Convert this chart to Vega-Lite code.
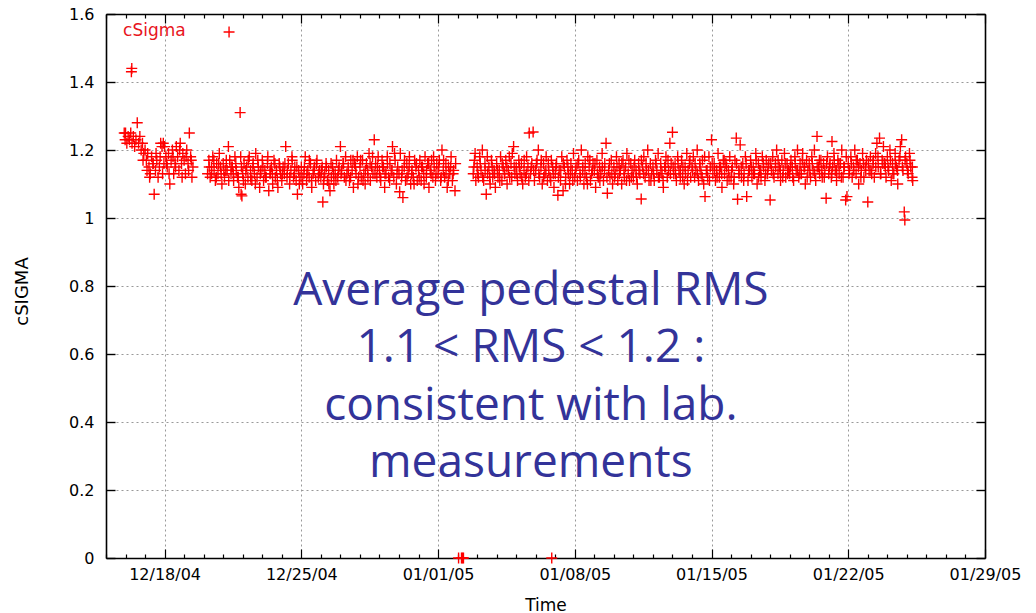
{
  "$schema": "https://vega.github.io/schema/vega-lite/v6.json",
  "width": 879,
  "height": 544,
  "autosize": "none",
  "padding": {"left": 106, "top": 14, "right": 51, "bottom": 55},
  "background": "white",
  "config": {"view": {"stroke": null}},
  "datasets": {
    "pts": [
      {"t":"2004-12-15T22:24","v":1.25},{"t":"2004-12-15T23:30","v":1.23},
      {"t":"2004-12-16T00:00","v":1.25},{"t":"2004-12-16T01:36","v":1.22},{"t":"2004-12-16T03:12","v":1.24},{"t":"2004-12-16T04:48","v":1.23},{"t":"2004-12-16T06:24","v":1.25},{"t":"2004-12-16T07:12","v":1.43},{"t":"2004-12-16T07:40","v":1.44},{"t":"2004-12-16T08:00","v":1.22},{"t":"2004-12-16T09:36","v":1.24},{"t":"2004-12-16T11:12","v":1.21},{"t":"2004-12-16T12:48","v":1.23},{"t":"2004-12-16T14:24","v":1.28},{"t":"2004-12-16T16:00","v":1.22},{"t":"2004-12-16T17:36","v":1.24},{"t":"2004-12-16T19:12","v":1.2},{"t":"2004-12-16T20:48","v":1.22},{"t":"2004-12-16T22:24","v":1.19},
      {"t":"2004-12-17T00:00","v":1.2},{"t":"2004-12-17T01:36","v":1.17},{"t":"2004-12-17T03:12","v":1.19},{"t":"2004-12-17T04:48","v":1.15},{"t":"2004-12-17T06:24","v":1.13},{"t":"2004-12-17T08:00","v":1.18},{"t":"2004-12-17T09:36","v":1.16},{"t":"2004-12-17T11:12","v":1.07},{"t":"2004-12-17T12:48","v":1.14},{"t":"2004-12-17T14:24","v":1.17},{"t":"2004-12-17T16:00","v":1.12},{"t":"2004-12-17T17:36","v":1.15},{"t":"2004-12-17T19:12","v":1.22},{"t":"2004-12-17T20:48","v":1.21},{"t":"2004-12-17T21:30","v":1.13},{"t":"2004-12-17T22:24","v":1.22},
      {"t":"2004-12-18T00:00","v":1.21},{"t":"2004-12-18T01:36","v":1.18},{"t":"2004-12-18T02:24","v":1.16},{"t":"2004-12-18T03:12","v":1.15},{"t":"2004-12-18T04:48","v":1.19},{"t":"2004-12-18T06:24","v":1.1},{"t":"2004-12-18T08:00","v":1.17},{"t":"2004-12-18T09:36","v":1.2},{"t":"2004-12-18T11:12","v":1.13},{"t":"2004-12-18T12:48","v":1.16},{"t":"2004-12-18T14:24","v":1.21},{"t":"2004-12-18T16:00","v":1.18},{"t":"2004-12-18T17:36","v":1.14},{"t":"2004-12-18T19:12","v":1.22},{"t":"2004-12-18T20:48","v":1.16},{"t":"2004-12-18T22:24","v":1.19},
      {"t":"2004-12-19T00:00","v":1.17},{"t":"2004-12-19T01:36","v":1.13},{"t":"2004-12-19T03:12","v":1.2},{"t":"2004-12-19T04:48","v":1.16},{"t":"2004-12-19T06:24","v":1.25},{"t":"2004-12-19T08:00","v":1.18},{"t":"2004-12-19T09:36","v":1.12},{"t":"2004-12-19T10:48","v":1.15},
      {"t":"2004-12-16T21:30","v":1.17},{"t":"2004-12-17T02:24","v":1.14},{"t":"2004-12-17T05:36","v":1.12},{"t":"2004-12-17T10:00","v":1.16},{"t":"2004-12-17T13:30","v":1.19},{"t":"2004-12-17T18:30","v":1.18},{"t":"2004-12-17T23:10","v":1.16},{"t":"2004-12-18T05:30","v":1.13},{"t":"2004-12-18T10:20","v":1.18},{"t":"2004-12-18T13:30","v":1.15},{"t":"2004-12-18T18:30","v":1.2},{"t":"2004-12-18T21:30","v":1.12},{"t":"2004-12-19T02:24","v":1.18},{"t":"2004-12-19T05:30","v":1.14},{"t":"2004-12-19T08:48","v":1.17},
      {"t":"2004-12-20T04:48","v":1.13},{"t":"2004-12-20T06:24","v":1.17},{"t":"2004-12-20T08:00","v":1.12},{"t":"2004-12-20T09:36","v":1.15},{"t":"2004-12-20T11:12","v":1.18},{"t":"2004-12-20T12:48","v":1.14},{"t":"2004-12-20T14:24","v":1.11},{"t":"2004-12-20T16:00","v":1.16},{"t":"2004-12-20T17:36","v":1.13},{"t":"2004-12-20T19:12","v":1.19},{"t":"2004-12-20T20:48","v":1.15},{"t":"2004-12-20T22:24","v":1.1},
      {"t":"2004-12-21T00:00","v":1.16},{"t":"2004-12-21T01:36","v":1.12},{"t":"2004-12-21T03:12","v":1.14},{"t":"2004-12-21T04:48","v":1.14},{"t":"2004-12-21T06:24","v":1.21},{"t":"2004-12-21T08:00","v":1.17},{"t":"2004-12-21T09:36","v":1.13},{"t":"2004-12-21T11:12","v":1.15},{"t":"2004-12-21T12:48","v":1.11},{"t":"2004-12-21T14:24","v":1.18},{"t":"2004-12-21T16:00","v":1.14},{"t":"2004-12-21T17:36","v":1.12},{"t":"2004-12-21T19:12","v":1.09},{"t":"2004-12-21T20:48","v":1.31},{"t":"2004-12-21T22:00","v":1.07},{"t":"2004-12-21T22:24","v":1.15},{"t":"2004-12-21T23:00","v":1.065},
      {"t":"2004-12-22T00:00","v":1.13},{"t":"2004-12-22T01:36","v":1.16},{"t":"2004-12-22T03:12","v":1.1},{"t":"2004-12-22T04:48","v":1.15},{"t":"2004-12-22T06:24","v":1.12},{"t":"2004-12-22T08:00","v":1.18},{"t":"2004-12-22T09:36","v":1.14},{"t":"2004-12-22T11:12","v":1.11},{"t":"2004-12-22T12:48","v":1.16},{"t":"2004-12-22T14:24","v":1.13},{"t":"2004-12-22T16:00","v":1.19},{"t":"2004-12-22T17:36","v":1.12},{"t":"2004-12-22T19:12","v":1.15},{"t":"2004-12-22T20:48","v":1.09},{"t":"2004-12-22T22:24","v":1.14},
      {"t":"2004-12-23T00:00","v":1.17},{"t":"2004-12-23T01:36","v":1.11},{"t":"2004-12-23T03:12","v":1.14},{"t":"2004-12-23T04:48","v":1.12},{"t":"2004-12-23T06:24","v":1.16},{"t":"2004-12-23T08:00","v":1.08},{"t":"2004-12-23T09:36","v":1.13},{"t":"2004-12-23T11:12","v":1.15},{"t":"2004-12-23T12:48","v":1.1},{"t":"2004-12-23T14:24","v":1.17},{"t":"2004-12-23T16:00","v":1.12},{"t":"2004-12-23T17:36","v":1.14},{"t":"2004-12-23T19:12","v":1.09},{"t":"2004-12-23T20:48","v":1.16},{"t":"2004-12-23T22:24","v":1.13},
      {"t":"2004-12-24T00:00","v":1.11},{"t":"2004-12-24T01:36","v":1.15},{"t":"2004-12-24T03:12","v":1.13},{"t":"2004-12-24T04:48","v":1.21},{"t":"2004-12-24T06:24","v":1.12},{"t":"2004-12-24T08:00","v":1.16},{"t":"2004-12-24T09:36","v":1.1},{"t":"2004-12-24T11:12","v":1.14},{"t":"2004-12-24T12:48","v":1.17},{"t":"2004-12-24T14:24","v":1.12},{"t":"2004-12-24T16:00","v":1.15},{"t":"2004-12-24T17:36","v":1.11},{"t":"2004-12-24T19:12","v":1.07},{"t":"2004-12-24T20:48","v":1.14},{"t":"2004-12-24T22:24","v":1.12},
      {"t":"2004-12-25T00:00","v":1.15},{"t":"2004-12-25T01:36","v":1.1},{"t":"2004-12-25T03:12","v":1.13},{"t":"2004-12-25T04:48","v":1.18},{"t":"2004-12-25T06:24","v":1.11},{"t":"2004-12-25T08:00","v":1.14},{"t":"2004-12-25T09:36","v":1.12},{"t":"2004-12-25T11:12","v":1.16},{"t":"2004-12-25T12:48","v":1.09},{"t":"2004-12-25T14:24","v":1.13},{"t":"2004-12-25T16:00","v":1.15},{"t":"2004-12-25T17:36","v":1.11},{"t":"2004-12-25T19:12","v":1.17},{"t":"2004-12-25T20:48","v":1.12},{"t":"2004-12-25T22:24","v":1.14},
      {"t":"2004-12-26T00:00","v":1.12},{"t":"2004-12-26T01:36","v":1.15},{"t":"2004-12-26T02:24","v":1.047},{"t":"2004-12-26T03:12","v":1.1},{"t":"2004-12-26T04:48","v":1.13},{"t":"2004-12-26T06:24","v":1.16},{"t":"2004-12-26T08:00","v":1.11},{"t":"2004-12-26T09:36","v":1.14},{"t":"2004-12-26T11:12","v":1.08},{"t":"2004-12-26T12:48","v":1.12},{"t":"2004-12-26T14:24","v":1.15},{"t":"2004-12-26T16:00","v":1.1},{"t":"2004-12-26T17:36","v":1.13},{"t":"2004-12-26T19:12","v":1.17},{"t":"2004-12-26T20:48","v":1.12},{"t":"2004-12-26T22:24","v":1.15},
      {"t":"2004-12-27T00:00","v":1.21},{"t":"2004-12-27T01:36","v":1.14},{"t":"2004-12-27T03:12","v":1.16},{"t":"2004-12-27T04:48","v":1.12},{"t":"2004-12-27T06:24","v":1.18},{"t":"2004-12-27T08:00","v":1.13},{"t":"2004-12-27T09:36","v":1.15},{"t":"2004-12-27T11:12","v":1.11},{"t":"2004-12-27T12:48","v":1.17},{"t":"2004-12-27T14:24","v":1.14},{"t":"2004-12-27T16:00","v":1.09},{"t":"2004-12-27T17:36","v":1.16},{"t":"2004-12-27T19:12","v":1.13},{"t":"2004-12-27T20:48","v":1.18},{"t":"2004-12-27T22:24","v":1.12},
      {"t":"2004-12-28T00:00","v":1.15},{"t":"2004-12-28T01:36","v":1.12},{"t":"2004-12-28T03:12","v":1.17},{"t":"2004-12-28T04:48","v":1.13},{"t":"2004-12-28T06:24","v":1.1},{"t":"2004-12-28T08:00","v":1.16},{"t":"2004-12-28T09:36","v":1.14},{"t":"2004-12-28T11:12","v":1.19},{"t":"2004-12-28T12:48","v":1.11},{"t":"2004-12-28T14:24","v":1.15},{"t":"2004-12-28T16:00","v":1.13},{"t":"2004-12-28T17:36","v":1.23},{"t":"2004-12-28T19:12","v":1.16},{"t":"2004-12-28T20:48","v":1.12},{"t":"2004-12-28T22:24","v":1.18},
      {"t":"2004-12-29T00:00","v":1.14},{"t":"2004-12-29T01:36","v":1.11},{"t":"2004-12-29T03:12","v":1.17},{"t":"2004-12-29T04:48","v":1.15},{"t":"2004-12-29T06:24","v":1.09},{"t":"2004-12-29T08:00","v":1.13},{"t":"2004-12-29T09:36","v":1.18},{"t":"2004-12-29T11:12","v":1.12},{"t":"2004-12-29T12:48","v":1.16},{"t":"2004-12-29T14:24","v":1.14},{"t":"2004-12-29T16:00","v":1.21},{"t":"2004-12-29T17:36","v":1.12},{"t":"2004-12-29T19:12","v":1.17},{"t":"2004-12-29T20:48","v":1.1},{"t":"2004-12-29T22:24","v":1.15},
      {"t":"2004-12-30T00:00","v":1.13},{"t":"2004-12-30T00:48","v":1.077},{"t":"2004-12-30T01:36","v":1.19},{"t":"2004-12-30T03:12","v":1.12},{"t":"2004-12-30T04:48","v":1.06},{"t":"2004-12-30T06:24","v":1.15},{"t":"2004-12-30T08:00","v":1.11},{"t":"2004-12-30T09:36","v":1.16},{"t":"2004-12-30T11:12","v":1.13},{"t":"2004-12-30T12:48","v":1.18},{"t":"2004-12-30T14:24","v":1.1},{"t":"2004-12-30T16:00","v":1.14},{"t":"2004-12-30T17:36","v":1.12},{"t":"2004-12-30T19:12","v":1.17},{"t":"2004-12-30T20:48","v":1.15},{"t":"2004-12-30T22:24","v":1.11},
      {"t":"2004-12-31T00:00","v":1.14},{"t":"2004-12-31T01:36","v":1.17},{"t":"2004-12-31T03:12","v":1.11},{"t":"2004-12-31T04:48","v":1.15},{"t":"2004-12-31T06:24","v":1.13},{"t":"2004-12-31T08:00","v":1.18},{"t":"2004-12-31T09:36","v":1.12},{"t":"2004-12-31T11:12","v":1.16},{"t":"2004-12-31T12:48","v":1.09},{"t":"2004-12-31T14:24","v":1.14},{"t":"2004-12-31T16:00","v":1.17},{"t":"2004-12-31T17:36","v":1.12},{"t":"2004-12-31T19:12","v":1.15},{"t":"2004-12-31T20:48","v":1.11},{"t":"2004-12-31T22:24","v":1.16},
      {"t":"2005-01-01T00:00","v":1.13},{"t":"2005-01-01T01:36","v":1.17},{"t":"2005-01-01T03:12","v":1.11},{"t":"2005-01-01T04:48","v":1.2},{"t":"2005-01-01T06:24","v":1.14},{"t":"2005-01-01T08:00","v":1.12},{"t":"2005-01-01T09:36","v":1.16},{"t":"2005-01-01T11:12","v":1.09},{"t":"2005-01-01T12:48","v":1.15},{"t":"2005-01-01T14:24","v":1.13},{"t":"2005-01-01T16:00","v":1.18},{"t":"2005-01-01T17:36","v":1.11},{"t":"2005-01-01T19:12","v":1.14},{"t":"2005-01-01T20:48","v":1.08},{"t":"2005-01-01T21:36","v":1.16},
      {"t":"2004-12-20T06:48","v":1.15},{"t":"2004-12-20T09:48","v":1.13},{"t":"2004-12-20T12:30","v":1.17},{"t":"2004-12-20T15:30","v":1.12},{"t":"2004-12-20T18:30","v":1.16},{"t":"2004-12-20T21:30","v":1.13},
      {"t":"2004-12-21T00:48","v":1.14},{"t":"2004-12-21T03:48","v":1.17},{"t":"2004-12-21T06:48","v":1.11},{"t":"2004-12-21T09:48","v":1.15},{"t":"2004-12-21T12:30","v":1.13},{"t":"2004-12-21T15:30","v":1.16},{"t":"2004-12-21T18:30","v":1.12},{"t":"2004-12-21T21:30","v":1.18},
      {"t":"2004-12-22T00:48","v":1.11},{"t":"2004-12-22T03:48","v":1.14},{"t":"2004-12-22T06:48","v":1.17},{"t":"2004-12-22T09:48","v":1.12},{"t":"2004-12-22T12:30","v":1.15},{"t":"2004-12-22T15:30","v":1.1},{"t":"2004-12-22T18:30","v":1.17},{"t":"2004-12-22T21:30","v":1.13},
      {"t":"2004-12-23T00:48","v":1.15},{"t":"2004-12-23T03:48","v":1.12},{"t":"2004-12-23T06:48","v":1.18},{"t":"2004-12-23T09:48","v":1.14},{"t":"2004-12-23T12:30","v":1.13},{"t":"2004-12-23T15:30","v":1.16},{"t":"2004-12-23T18:30","v":1.11},{"t":"2004-12-23T21:30","v":1.15},
      {"t":"2004-12-24T00:48","v":1.13},{"t":"2004-12-24T03:48","v":1.16},{"t":"2004-12-24T06:48","v":1.14},{"t":"2004-12-24T09:48","v":1.12},{"t":"2004-12-24T12:30","v":1.18},{"t":"2004-12-24T15:30","v":1.13},{"t":"2004-12-24T18:30","v":1.15},{"t":"2004-12-24T21:30","v":1.1},
      {"t":"2004-12-25T00:48","v":1.12},{"t":"2004-12-25T03:48","v":1.15},{"t":"2004-12-25T06:48","v":1.13},{"t":"2004-12-25T09:48","v":1.17},{"t":"2004-12-25T12:30","v":1.11},{"t":"2004-12-25T15:30","v":1.14},{"t":"2004-12-25T18:30","v":1.16},{"t":"2004-12-25T21:30","v":1.13},
      {"t":"2004-12-26T00:48","v":1.14},{"t":"2004-12-26T03:48","v":1.12},{"t":"2004-12-26T06:48","v":1.15},{"t":"2004-12-26T09:48","v":1.1},{"t":"2004-12-26T12:30","v":1.16},{"t":"2004-12-26T15:30","v":1.13},{"t":"2004-12-26T18:30","v":1.11},{"t":"2004-12-26T21:30","v":1.14},
      {"t":"2004-12-27T00:48","v":1.13},{"t":"2004-12-27T03:48","v":1.16},{"t":"2004-12-27T06:48","v":1.11},{"t":"2004-12-27T09:48","v":1.14},{"t":"2004-12-27T12:30","v":1.12},{"t":"2004-12-27T15:30","v":1.17},{"t":"2004-12-27T18:30","v":1.15},{"t":"2004-12-27T21:30","v":1.1},
      {"t":"2004-12-28T00:48","v":1.17},{"t":"2004-12-28T03:48","v":1.11},{"t":"2004-12-28T06:48","v":1.14},{"t":"2004-12-28T09:48","v":1.12},{"t":"2004-12-28T12:30","v":1.16},{"t":"2004-12-28T15:30","v":1.18},{"t":"2004-12-28T18:30","v":1.13},{"t":"2004-12-28T21:30","v":1.15},
      {"t":"2004-12-29T00:48","v":1.12},{"t":"2004-12-29T03:48","v":1.15},{"t":"2004-12-29T06:48","v":1.13},{"t":"2004-12-29T09:48","v":1.16},{"t":"2004-12-29T12:30","v":1.11},{"t":"2004-12-29T15:30","v":1.14},{"t":"2004-12-29T18:30","v":1.19},{"t":"2004-12-29T21:30","v":1.13},
      {"t":"2004-12-30T03:48","v":1.14},{"t":"2004-12-30T06:48","v":1.17},{"t":"2004-12-30T09:48","v":1.12},{"t":"2004-12-30T12:30","v":1.15},{"t":"2004-12-30T15:30","v":1.13},{"t":"2004-12-30T18:30","v":1.1},{"t":"2004-12-30T21:30","v":1.16},
      {"t":"2004-12-31T00:48","v":1.12},{"t":"2004-12-31T03:48","v":1.15},{"t":"2004-12-31T06:48","v":1.1},{"t":"2004-12-31T09:48","v":1.14},{"t":"2004-12-31T12:30","v":1.16},{"t":"2004-12-31T15:30","v":1.13},{"t":"2004-12-31T18:30","v":1.18},{"t":"2004-12-31T21:30","v":1.13},
      {"t":"2005-01-01T00:48","v":1.15},{"t":"2005-01-01T03:48","v":1.12},{"t":"2005-01-01T06:48","v":1.17},{"t":"2005-01-01T09:48","v":1.13},{"t":"2005-01-01T12:30","v":1.11},{"t":"2005-01-01T15:30","v":1.15},{"t":"2005-01-01T18:30","v":1.13},
      {"t":"2005-01-02T01:12","v":0},{"t":"2005-01-02T04:48","v":0},{"t":"2005-01-02T06:00","v":0},{"t":"2005-01-02T07:12","v":0},
      {"t":"2005-01-02T19:12","v":1.13},{"t":"2005-01-02T20:00","v":1.15},{"t":"2005-01-02T20:48","v":1.17},{"t":"2005-01-02T21:30","v":1.19},{"t":"2005-01-02T22:24","v":1.11},
      {"t":"2005-01-03T00:00","v":1.15},{"t":"2005-01-03T01:36","v":1.12},{"t":"2005-01-03T03:12","v":1.18},{"t":"2005-01-03T04:48","v":1.14},{"t":"2005-01-03T06:24","v":1.2},{"t":"2005-01-03T08:00","v":1.11},{"t":"2005-01-03T09:36","v":1.16},{"t":"2005-01-03T11:12","v":1.07},{"t":"2005-01-03T12:48","v":1.13},{"t":"2005-01-03T14:24","v":1.15},{"t":"2005-01-03T16:00","v":1.1},{"t":"2005-01-03T17:36","v":1.17},{"t":"2005-01-03T19:12","v":1.12},{"t":"2005-01-03T20:48","v":1.14},{"t":"2005-01-03T22:24","v":1.09},
      {"t":"2005-01-04T00:00","v":1.16},{"t":"2005-01-04T01:36","v":1.12},{"t":"2005-01-04T03:12","v":1.14},{"t":"2005-01-04T04:48","v":1.18},{"t":"2005-01-04T06:24","v":1.11},{"t":"2005-01-04T08:00","v":1.15},{"t":"2005-01-04T09:36","v":1.13},{"t":"2005-01-04T11:12","v":1.17},{"t":"2005-01-04T12:48","v":1.1},{"t":"2005-01-04T14:24","v":1.14},{"t":"2005-01-04T16:00","v":1.12},{"t":"2005-01-04T17:36","v":1.16},{"t":"2005-01-04T19:12","v":1.19},{"t":"2005-01-04T20:48","v":1.21},{"t":"2005-01-04T22:24","v":1.13},
      {"t":"2005-01-05T00:00","v":1.15},{"t":"2005-01-05T01:36","v":1.11},{"t":"2005-01-05T03:12","v":1.17},{"t":"2005-01-05T04:48","v":1.13},{"t":"2005-01-05T06:24","v":1.16},{"t":"2005-01-05T08:00","v":1.1},{"t":"2005-01-05T09:36","v":1.14},{"t":"2005-01-05T11:12","v":1.12},{"t":"2005-01-05T12:48","v":1.18},{"t":"2005-01-05T14:24","v":1.15},{"t":"2005-01-05T16:00","v":1.25},{"t":"2005-01-05T17:36","v":1.13},{"t":"2005-01-05T19:12","v":1.16},{"t":"2005-01-05T20:48","v":1.253},{"t":"2005-01-05T22:24","v":1.11},
      {"t":"2005-01-06T00:00","v":1.14},{"t":"2005-01-06T01:36","v":1.17},{"t":"2005-01-06T03:12","v":1.2},{"t":"2005-01-06T04:48","v":1.12},{"t":"2005-01-06T06:24","v":1.15},{"t":"2005-01-06T08:00","v":1.1},{"t":"2005-01-06T09:36","v":1.16},{"t":"2005-01-06T11:12","v":1.13},{"t":"2005-01-06T12:48","v":1.18},{"t":"2005-01-06T14:24","v":1.11},{"t":"2005-01-06T16:00","v":1.14},{"t":"2005-01-06T17:36","v":1.12},{"t":"2005-01-06T19:12","v":1.17},{"t":"2005-01-06T19:40","v":0},{"t":"2005-01-06T20:48","v":1.15},{"t":"2005-01-06T22:24","v":1.09},
      {"t":"2005-01-07T00:00","v":1.13},{"t":"2005-01-07T01:36","v":1.16},{"t":"2005-01-07T03:12","v":1.067},{"t":"2005-01-07T04:48","v":1.14},{"t":"2005-01-07T06:24","v":1.11},{"t":"2005-01-07T08:00","v":1.18},{"t":"2005-01-07T09:36","v":1.08},{"t":"2005-01-07T11:12","v":1.15},{"t":"2005-01-07T12:48","v":1.12},{"t":"2005-01-07T14:24","v":1.17},{"t":"2005-01-07T16:00","v":1.13},{"t":"2005-01-07T17:36","v":1.1},{"t":"2005-01-07T19:12","v":1.16},{"t":"2005-01-07T20:48","v":1.14},{"t":"2005-01-07T22:24","v":1.19},
      {"t":"2005-01-08T00:00","v":1.12},{"t":"2005-01-08T01:36","v":1.15},{"t":"2005-01-08T03:12","v":1.11},{"t":"2005-01-08T04:48","v":1.17},{"t":"2005-01-08T06:24","v":1.13},{"t":"2005-01-08T08:00","v":1.2},{"t":"2005-01-08T09:36","v":1.14},{"t":"2005-01-08T11:12","v":1.1},{"t":"2005-01-08T12:48","v":1.16},{"t":"2005-01-08T14:24","v":1.12},{"t":"2005-01-08T16:00","v":1.18},{"t":"2005-01-08T17:36","v":1.15},{"t":"2005-01-08T19:12","v":1.11},{"t":"2005-01-08T20:48","v":1.13},{"t":"2005-01-08T22:24","v":1.16},
      {"t":"2005-01-09T00:00","v":1.14},{"t":"2005-01-09T01:36","v":1.09},{"t":"2005-01-09T03:12","v":1.17},{"t":"2005-01-09T04:48","v":1.12},{"t":"2005-01-09T06:24","v":1.15},{"t":"2005-01-09T08:00","v":1.13},{"t":"2005-01-09T09:36","v":1.19},{"t":"2005-01-09T11:12","v":1.11},{"t":"2005-01-09T12:48","v":1.16},{"t":"2005-01-09T14:24","v":1.22},{"t":"2005-01-09T16:00","v":1.073},{"t":"2005-01-09T17:36","v":1.14},{"t":"2005-01-09T19:12","v":1.12},{"t":"2005-01-09T20:48","v":1.17},{"t":"2005-01-09T22:24","v":1.1},
      {"t":"2005-01-10T00:00","v":1.15},{"t":"2005-01-10T01:36","v":1.13},{"t":"2005-01-10T03:12","v":1.18},{"t":"2005-01-10T04:48","v":1.11},{"t":"2005-01-10T06:24","v":1.16},{"t":"2005-01-10T08:00","v":1.14},{"t":"2005-01-10T09:36","v":1.1},{"t":"2005-01-10T11:12","v":1.17},{"t":"2005-01-10T12:48","v":1.12},{"t":"2005-01-10T14:24","v":1.15},{"t":"2005-01-10T16:00","v":1.19},{"t":"2005-01-10T17:36","v":1.13},{"t":"2005-01-10T19:12","v":1.11},{"t":"2005-01-10T20:48","v":1.16},{"t":"2005-01-10T22:24","v":1.14},
      {"t":"2005-01-11T00:00","v":1.12},{"t":"2005-01-11T01:36","v":1.17},{"t":"2005-01-11T03:12","v":1.14},{"t":"2005-01-11T04:48","v":1.1},{"t":"2005-01-11T06:24","v":1.16},{"t":"2005-01-11T08:00","v":1.13},{"t":"2005-01-11T09:36","v":1.056},{"t":"2005-01-11T11:12","v":1.15},{"t":"2005-01-11T12:48","v":1.18},{"t":"2005-01-11T14:24","v":1.12},{"t":"2005-01-11T16:00","v":1.14},{"t":"2005-01-11T17:36","v":1.2},{"t":"2005-01-11T19:12","v":1.11},{"t":"2005-01-11T20:48","v":1.16},{"t":"2005-01-11T22:24","v":1.13},
      {"t":"2005-01-12T00:00","v":1.15},{"t":"2005-01-12T01:36","v":1.11},{"t":"2005-01-12T03:12","v":1.17},{"t":"2005-01-12T04:48","v":1.14},{"t":"2005-01-12T06:24","v":1.19},{"t":"2005-01-12T08:00","v":1.12},{"t":"2005-01-12T09:36","v":1.16},{"t":"2005-01-12T11:12","v":1.13},{"t":"2005-01-12T12:48","v":1.09},{"t":"2005-01-12T14:24","v":1.15},{"t":"2005-01-12T16:00","v":1.18},{"t":"2005-01-12T17:36","v":1.12},{"t":"2005-01-12T19:12","v":1.14},{"t":"2005-01-12T20:48","v":1.22},{"t":"2005-01-12T22:24","v":1.16},
      {"t":"2005-01-13T00:00","v":1.252},{"t":"2005-01-13T01:36","v":1.13},{"t":"2005-01-13T03:12","v":1.16},{"t":"2005-01-13T04:48","v":1.11},{"t":"2005-01-13T06:24","v":1.18},{"t":"2005-01-13T08:00","v":1.14},{"t":"2005-01-13T09:36","v":1.12},{"t":"2005-01-13T11:12","v":1.17},{"t":"2005-01-13T12:48","v":1.15},{"t":"2005-01-13T14:24","v":1.1},{"t":"2005-01-13T16:00","v":1.13},{"t":"2005-01-13T17:36","v":1.19},{"t":"2005-01-13T19:12","v":1.14},{"t":"2005-01-13T20:48","v":1.16},{"t":"2005-01-13T22:24","v":1.12},
      {"t":"2005-01-14T00:00","v":1.15},{"t":"2005-01-14T01:36","v":1.18},{"t":"2005-01-14T03:12","v":1.12},{"t":"2005-01-14T04:48","v":1.14},{"t":"2005-01-14T06:24","v":1.2},{"t":"2005-01-14T08:00","v":1.11},{"t":"2005-01-14T09:36","v":1.16},{"t":"2005-01-14T11:12","v":1.13},{"t":"2005-01-14T12:48","v":1.17},{"t":"2005-01-14T14:24","v":1.1},{"t":"2005-01-14T16:00","v":1.063},{"t":"2005-01-14T17:36","v":1.14},{"t":"2005-01-14T19:12","v":1.12},{"t":"2005-01-14T20:48","v":1.18},{"t":"2005-01-14T22:24","v":1.15},
      {"t":"2005-01-15T00:00","v":1.23},{"t":"2005-01-15T01:36","v":1.13},{"t":"2005-01-15T03:12","v":1.16},{"t":"2005-01-15T04:48","v":1.11},{"t":"2005-01-15T06:24","v":1.14},{"t":"2005-01-15T08:00","v":1.19},{"t":"2005-01-15T09:36","v":1.12},{"t":"2005-01-15T11:12","v":1.15},{"t":"2005-01-15T12:48","v":1.09},{"t":"2005-01-15T14:24","v":1.17},{"t":"2005-01-15T16:00","v":1.13},{"t":"2005-01-15T17:36","v":1.16},{"t":"2005-01-15T19:12","v":1.11},{"t":"2005-01-15T20:48","v":1.14},{"t":"2005-01-15T22:24","v":1.18},
      {"t":"2005-01-16T00:00","v":1.12},{"t":"2005-01-16T01:36","v":1.15},{"t":"2005-01-16T03:12","v":1.1},{"t":"2005-01-16T04:48","v":1.17},{"t":"2005-01-16T06:24","v":1.235},{"t":"2005-01-16T08:00","v":1.055},{"t":"2005-01-16T09:36","v":1.14},{"t":"2005-01-16T11:12","v":1.215},{"t":"2005-01-16T12:48","v":1.12},{"t":"2005-01-16T14:24","v":1.16},{"t":"2005-01-16T16:00","v":1.13},{"t":"2005-01-16T17:36","v":1.18},{"t":"2005-01-16T19:12","v":1.063},{"t":"2005-01-16T20:48","v":1.11},{"t":"2005-01-16T22:24","v":1.14},
      {"t":"2005-01-17T00:00","v":1.17},{"t":"2005-01-17T01:36","v":1.12},{"t":"2005-01-17T03:12","v":1.15},{"t":"2005-01-17T04:48","v":1.13},{"t":"2005-01-17T06:24","v":1.19},{"t":"2005-01-17T08:00","v":1.1},{"t":"2005-01-17T09:36","v":1.16},{"t":"2005-01-17T11:12","v":1.14},{"t":"2005-01-17T12:48","v":1.12},{"t":"2005-01-17T14:24","v":1.18},{"t":"2005-01-17T16:00","v":1.15},{"t":"2005-01-17T17:36","v":1.11},{"t":"2005-01-17T19:12","v":1.17},{"t":"2005-01-17T20:48","v":1.13},{"t":"2005-01-17T22:24","v":1.16},
      {"t":"2005-01-18T00:00","v":1.053},{"t":"2005-01-18T01:36","v":1.14},{"t":"2005-01-18T03:12","v":1.18},{"t":"2005-01-18T04:48","v":1.12},{"t":"2005-01-18T06:24","v":1.16},{"t":"2005-01-18T08:00","v":1.2},{"t":"2005-01-18T09:36","v":1.13},{"t":"2005-01-18T11:12","v":1.15},{"t":"2005-01-18T12:48","v":1.11},{"t":"2005-01-18T14:24","v":1.17},{"t":"2005-01-18T16:00","v":1.14},{"t":"2005-01-18T17:36","v":1.19},{"t":"2005-01-18T19:12","v":1.12},{"t":"2005-01-18T20:48","v":1.16},{"t":"2005-01-18T22:24","v":1.14},
      {"t":"2005-01-19T00:00","v":1.13},{"t":"2005-01-19T01:36","v":1.17},{"t":"2005-01-19T03:12","v":1.15},{"t":"2005-01-19T04:48","v":1.11},{"t":"2005-01-19T06:24","v":1.18},{"t":"2005-01-19T08:00","v":1.14},{"t":"2005-01-19T09:36","v":1.2},{"t":"2005-01-19T11:12","v":1.12},{"t":"2005-01-19T12:48","v":1.16},{"t":"2005-01-19T14:24","v":1.13},{"t":"2005-01-19T16:00","v":1.19},{"t":"2005-01-19T17:36","v":1.15},{"t":"2005-01-19T19:12","v":1.1},{"t":"2005-01-19T20:48","v":1.17},{"t":"2005-01-19T22:24","v":1.14},
      {"t":"2005-01-20T00:00","v":1.16},{"t":"2005-01-20T01:36","v":1.12},{"t":"2005-01-20T03:12","v":1.18},{"t":"2005-01-20T04:48","v":1.14},{"t":"2005-01-20T06:24","v":1.2},{"t":"2005-01-20T08:00","v":1.11},{"t":"2005-01-20T09:36","v":1.24},{"t":"2005-01-20T11:12","v":1.15},{"t":"2005-01-20T12:48","v":1.13},{"t":"2005-01-20T14:24","v":1.17},{"t":"2005-01-20T16:00","v":1.12},{"t":"2005-01-20T17:36","v":1.16},{"t":"2005-01-20T19:12","v":1.14},{"t":"2005-01-20T20:48","v":1.058},{"t":"2005-01-20T22:24","v":1.18},
      {"t":"2005-01-21T00:00","v":1.13},{"t":"2005-01-21T01:36","v":1.16},{"t":"2005-01-21T03:12","v":1.12},{"t":"2005-01-21T04:00","v":1.225},{"t":"2005-01-21T04:48","v":1.15},{"t":"2005-01-21T06:24","v":1.19},{"t":"2005-01-21T08:00","v":1.14},{"t":"2005-01-21T09:36","v":1.11},{"t":"2005-01-21T11:12","v":1.17},{"t":"2005-01-21T12:48","v":1.13},{"t":"2005-01-21T14:24","v":1.16},{"t":"2005-01-21T16:00","v":1.2},{"t":"2005-01-21T17:36","v":1.12},{"t":"2005-01-21T19:12","v":1.15},{"t":"2005-01-21T20:48","v":1.053},{"t":"2005-01-21T22:24","v":1.063},
      {"t":"2005-01-22T00:00","v":1.16},{"t":"2005-01-22T01:36","v":1.14},{"t":"2005-01-22T03:12","v":1.18},{"t":"2005-01-22T04:48","v":1.12},{"t":"2005-01-22T06:24","v":1.15},{"t":"2005-01-22T08:00","v":1.2},{"t":"2005-01-22T09:36","v":1.13},{"t":"2005-01-22T11:12","v":1.17},{"t":"2005-01-22T12:48","v":1.1},{"t":"2005-01-22T14:24","v":1.16},{"t":"2005-01-22T16:00","v":1.14},{"t":"2005-01-22T17:36","v":1.19},{"t":"2005-01-22T19:12","v":1.12},{"t":"2005-01-22T20:48","v":1.15},{"t":"2005-01-22T22:24","v":1.17},
      {"t":"2005-01-23T00:00","v":1.047},{"t":"2005-01-23T01:36","v":1.14},{"t":"2005-01-23T03:12","v":1.18},{"t":"2005-01-23T04:48","v":1.13},{"t":"2005-01-23T06:24","v":1.16},{"t":"2005-01-23T08:00","v":1.12},{"t":"2005-01-23T09:36","v":1.19},{"t":"2005-01-23T11:12","v":1.22},{"t":"2005-01-23T12:48","v":1.15},{"t":"2005-01-23T14:24","v":1.235},{"t":"2005-01-23T16:00","v":1.13},{"t":"2005-01-23T17:36","v":1.17},{"t":"2005-01-23T19:12","v":1.21},{"t":"2005-01-23T20:48","v":1.16},{"t":"2005-01-23T22:24","v":1.12},
      {"t":"2005-01-24T00:00","v":1.18},{"t":"2005-01-24T01:36","v":1.14},{"t":"2005-01-24T03:12","v":1.2},{"t":"2005-01-24T04:48","v":1.11},{"t":"2005-01-24T06:24","v":1.16},{"t":"2005-01-24T08:00","v":1.13},{"t":"2005-01-24T09:36","v":1.19},{"t":"2005-01-24T11:12","v":1.15},{"t":"2005-01-24T12:48","v":1.1},{"t":"2005-01-24T14:24","v":1.17},{"t":"2005-01-24T16:00","v":1.21},{"t":"2005-01-24T17:36","v":1.23},{"t":"2005-01-24T19:12","v":1.14},{"t":"2005-01-24T20:48","v":1.018},{"t":"2005-01-24T21:30","v":0.994},{"t":"2005-01-24T22:24","v":1.18},
      {"t":"2005-01-25T00:00","v":1.16},{"t":"2005-01-25T01:36","v":1.13},{"t":"2005-01-25T03:12","v":1.19},{"t":"2005-01-25T04:48","v":1.15},{"t":"2005-01-25T06:24","v":1.12},{"t":"2005-01-25T07:12","v":1.11},
      {"t":"2005-01-03T00:48","v":1.13},{"t":"2005-01-03T03:48","v":1.16},{"t":"2005-01-03T06:48","v":1.12},{"t":"2005-01-03T09:48","v":1.14},{"t":"2005-01-03T12:30","v":1.18},{"t":"2005-01-03T15:30","v":1.12},{"t":"2005-01-03T18:30","v":1.15},{"t":"2005-01-03T21:30","v":1.13},
      {"t":"2005-01-04T00:48","v":1.14},{"t":"2005-01-04T03:48","v":1.11},{"t":"2005-01-04T06:48","v":1.16},{"t":"2005-01-04T09:48","v":1.13},{"t":"2005-01-04T12:30","v":1.15},{"t":"2005-01-04T15:30","v":1.18},{"t":"2005-01-04T18:30","v":1.12},{"t":"2005-01-04T21:30","v":1.15},
      {"t":"2005-01-05T00:48","v":1.13},{"t":"2005-01-05T03:48","v":1.15},{"t":"2005-01-05T06:48","v":1.12},{"t":"2005-01-05T09:48","v":1.17},{"t":"2005-01-05T12:30","v":1.13},{"t":"2005-01-05T15:30","v":1.11},{"t":"2005-01-05T18:30","v":1.15},{"t":"2005-01-05T21:30","v":1.14},
      {"t":"2005-01-06T00:48","v":1.16},{"t":"2005-01-06T03:48","v":1.13},{"t":"2005-01-06T06:48","v":1.17},{"t":"2005-01-06T09:48","v":1.12},{"t":"2005-01-06T12:30","v":1.14},{"t":"2005-01-06T15:30","v":1.16},{"t":"2005-01-06T18:30","v":1.11},{"t":"2005-01-06T21:30","v":1.13},
      {"t":"2005-01-07T00:48","v":1.15},{"t":"2005-01-07T03:48","v":1.12},{"t":"2005-01-07T06:48","v":1.14},{"t":"2005-01-07T09:48","v":1.16},{"t":"2005-01-07T12:30","v":1.1},{"t":"2005-01-07T15:30","v":1.15},{"t":"2005-01-07T18:30","v":1.13},{"t":"2005-01-07T21:30","v":1.11},
      {"t":"2005-01-08T00:48","v":1.14},{"t":"2005-01-08T03:48","v":1.16},{"t":"2005-01-08T06:48","v":1.12},{"t":"2005-01-08T09:48","v":1.15},{"t":"2005-01-08T12:30","v":1.13},{"t":"2005-01-08T15:30","v":1.1},{"t":"2005-01-08T18:30","v":1.17},{"t":"2005-01-08T21:30","v":1.14},
      {"t":"2005-01-09T00:48","v":1.16},{"t":"2005-01-09T03:48","v":1.13},{"t":"2005-01-09T06:48","v":1.11},{"t":"2005-01-09T09:48","v":1.15},{"t":"2005-01-09T12:30","v":1.14},{"t":"2005-01-09T15:30","v":1.12},{"t":"2005-01-09T18:30","v":1.16},{"t":"2005-01-09T21:30","v":1.13},
      {"t":"2005-01-10T00:48","v":1.12},{"t":"2005-01-10T03:48","v":1.15},{"t":"2005-01-10T06:48","v":1.13},{"t":"2005-01-10T09:48","v":1.16},{"t":"2005-01-10T12:30","v":1.14},{"t":"2005-01-10T15:30","v":1.11},{"t":"2005-01-10T18:30","v":1.17},{"t":"2005-01-10T21:30","v":1.12},
      {"t":"2005-01-11T00:48","v":1.15},{"t":"2005-01-11T03:48","v":1.12},{"t":"2005-01-11T06:48","v":1.14},{"t":"2005-01-11T09:48","v":1.17},{"t":"2005-01-11T12:30","v":1.13},{"t":"2005-01-11T15:30","v":1.16},{"t":"2005-01-11T18:30","v":1.14},{"t":"2005-01-11T21:30","v":1.11},
      {"t":"2005-01-12T00:48","v":1.13},{"t":"2005-01-12T03:48","v":1.16},{"t":"2005-01-12T06:48","v":1.12},{"t":"2005-01-12T09:48","v":1.14},{"t":"2005-01-12T12:30","v":1.11},{"t":"2005-01-12T15:30","v":1.15},{"t":"2005-01-12T18:30","v":1.17},{"t":"2005-01-12T21:30","v":1.13},
      {"t":"2005-01-13T00:48","v":1.15},{"t":"2005-01-13T03:48","v":1.13},{"t":"2005-01-13T06:48","v":1.16},{"t":"2005-01-13T09:48","v":1.14},{"t":"2005-01-13T12:30","v":1.12},{"t":"2005-01-13T15:30","v":1.15},{"t":"2005-01-13T18:30","v":1.11},{"t":"2005-01-13T21:30","v":1.17},
      {"t":"2005-01-14T00:48","v":1.14},{"t":"2005-01-14T03:48","v":1.16},{"t":"2005-01-14T06:48","v":1.13},{"t":"2005-01-14T09:48","v":1.15},{"t":"2005-01-14T12:30","v":1.12},{"t":"2005-01-14T15:30","v":1.18},{"t":"2005-01-14T18:30","v":1.14},{"t":"2005-01-14T21:30","v":1.11},
      {"t":"2005-01-15T00:48","v":1.16},{"t":"2005-01-15T03:48","v":1.14},{"t":"2005-01-15T06:48","v":1.12},{"t":"2005-01-15T09:48","v":1.15},{"t":"2005-01-15T12:30","v":1.13},{"t":"2005-01-15T15:30","v":1.17},{"t":"2005-01-15T18:30","v":1.15},{"t":"2005-01-15T21:30","v":1.12},
      {"t":"2005-01-16T00:48","v":1.14},{"t":"2005-01-16T03:48","v":1.12},{"t":"2005-01-16T06:48","v":1.16},{"t":"2005-01-16T09:48","v":1.13},{"t":"2005-01-16T12:30","v":1.15},{"t":"2005-01-16T15:30","v":1.11},{"t":"2005-01-16T18:30","v":1.16},{"t":"2005-01-16T21:30","v":1.14},
      {"t":"2005-01-17T00:48","v":1.15},{"t":"2005-01-17T03:48","v":1.13},{"t":"2005-01-17T06:48","v":1.17},{"t":"2005-01-17T09:48","v":1.12},{"t":"2005-01-17T12:30","v":1.14},{"t":"2005-01-17T15:30","v":1.16},{"t":"2005-01-17T18:30","v":1.13},{"t":"2005-01-17T21:30","v":1.15},
      {"t":"2005-01-18T00:48","v":1.16},{"t":"2005-01-18T03:48","v":1.13},{"t":"2005-01-18T06:48","v":1.15},{"t":"2005-01-18T09:48","v":1.17},{"t":"2005-01-18T12:30","v":1.14},{"t":"2005-01-18T15:30","v":1.12},{"t":"2005-01-18T18:30","v":1.16},{"t":"2005-01-18T21:30","v":1.13},
      {"t":"2005-01-19T00:48","v":1.15},{"t":"2005-01-19T03:48","v":1.12},{"t":"2005-01-19T06:48","v":1.16},{"t":"2005-01-19T09:48","v":1.14},{"t":"2005-01-19T12:30","v":1.13},{"t":"2005-01-19T15:30","v":1.17},{"t":"2005-01-19T18:30","v":1.15},{"t":"2005-01-19T21:30","v":1.12},
      {"t":"2005-01-20T00:48","v":1.14},{"t":"2005-01-20T03:48","v":1.16},{"t":"2005-01-20T06:48","v":1.13},{"t":"2005-01-20T09:48","v":1.15},{"t":"2005-01-20T12:30","v":1.17},{"t":"2005-01-20T15:30","v":1.14},{"t":"2005-01-20T18:30","v":1.12},{"t":"2005-01-20T21:30","v":1.16},
      {"t":"2005-01-21T00:48","v":1.15},{"t":"2005-01-21T03:48","v":1.13},{"t":"2005-01-21T06:48","v":1.17},{"t":"2005-01-21T09:48","v":1.14},{"t":"2005-01-21T12:30","v":1.16},{"t":"2005-01-21T15:30","v":1.12},{"t":"2005-01-21T18:30","v":1.15},{"t":"2005-01-21T21:30","v":1.18},
      {"t":"2005-01-22T00:48","v":1.13},{"t":"2005-01-22T03:48","v":1.16},{"t":"2005-01-22T06:48","v":1.14},{"t":"2005-01-22T09:48","v":1.17},{"t":"2005-01-22T12:30","v":1.15},{"t":"2005-01-22T15:30","v":1.12},{"t":"2005-01-22T18:30","v":1.16},{"t":"2005-01-22T21:30","v":1.14},
      {"t":"2005-01-23T00:48","v":1.16},{"t":"2005-01-23T03:48","v":1.14},{"t":"2005-01-23T06:48","v":1.17},{"t":"2005-01-23T09:48","v":1.15},{"t":"2005-01-23T12:30","v":1.18},{"t":"2005-01-23T15:30","v":1.13},{"t":"2005-01-23T18:30","v":1.16},{"t":"2005-01-23T21:30","v":1.15},
      {"t":"2005-01-24T00:48","v":1.15},{"t":"2005-01-24T03:48","v":1.17},{"t":"2005-01-24T06:48","v":1.13},{"t":"2005-01-24T09:48","v":1.16},{"t":"2005-01-24T12:30","v":1.14},{"t":"2005-01-24T15:30","v":1.18},{"t":"2005-01-24T18:30","v":1.15},{"t":"2005-01-24T21:50","v":1.17},
      {"t":"2005-01-25T00:48","v":1.14},{"t":"2005-01-25T03:48","v":1.17},{"t":"2005-01-25T06:48","v":1.15}
    ],
    "notes": [
      {"t":"2005-01-05T18:00","v":0.744,"text":"Average pedestal RMS"},
      {"t":"2005-01-05T18:00","v":0.576,"text":"1.1 < RMS < 1.2 :"},
      {"t":"2005-01-05T18:00","v":0.406,"text":"consistent with lab."},
      {"t":"2005-01-05T18:00","v":0.238,"text":"measurements"}
    ],
    "legend": [
      {"t":"2004-12-15T21:00","v":1.535,"tx":"2004-12-21T07:12","tv":1.547,"label":"cSigma"}
    ]
  },
  "resolve": {"axis": {"x": "independent", "y": "independent"}},
  "layer": [
    {
      "data": {"name": "pts"},
      "mark": {"type": "point", "shape": "M-1,0L1,0M0,-1L0,1", "size": 120, "filled": false, "stroke": "#ff0000", "strokeWidth": 1.4, "opacity": 1},
      "encoding": {
        "x": {
          "field": "t", "type": "temporal",
          "scale": {"domain": [{"year": 2004, "month": 12, "date": 15}, {"year": 2005, "month": 1, "date": 29}], "nice": false},
          "axis": {
            "orient": "bottom", "title": "Time",
            "tickCount": {"interval": "day", "step": 1},
            "format": "%m/%d/%y",
            "labelExpr": "day(datum.value) == 6 ? datum.label : ''",
            "labelOverlap": false, "labelFlush": false, "labelBound": false,
            "labelFont": "DejaVu Sans", "labelFontSize": 16, "labelColor": "#000", "labelPadding": 17,
            "tickSize": {"condition": {"test": "day(datum.value) == 6", "value": -9}, "value": -4},
            "tickColor": "#000", "tickWidth": 1.2,
            "domainColor": "#000", "domainWidth": 1.6,
            "grid": true, "gridDash": [2, 3], "gridColor": "#999", "gridWidth": 1,
            "gridOpacity": {"condition": {"test": "day(datum.value) == 6", "value": 1}, "value": 0},
            "titleFont": "DejaVu Sans", "titleFontSize": 17, "titleFontWeight": "normal", "titleColor": "#000",
            "titleBaseline": "alphabetic", "titleY": 52
          }
        },
        "y": {
          "field": "v", "type": "quantitative",
          "scale": {"domain": [0, 1.6], "nice": false, "zero": false},
          "axis": {
            "orient": "left", "title": "cSIGMA",
            "values": [0, 0.2, 0.4, 0.6, 0.8, 1, 1.2, 1.4, 1.6],
            "format": "~g",
            "labelFont": "DejaVu Sans", "labelFontSize": 16, "labelColor": "#000", "labelPadding": 21,
            "tickSize": -9, "tickColor": "#000", "tickWidth": 1.4,
            "domainColor": "#000", "domainWidth": 1.6,
            "grid": true, "gridDash": [2, 3], "gridColor": "#999", "gridWidth": 1,
            "titleFont": "DejaVu Sans", "titleFontSize": 18, "titleFontWeight": "normal", "titleColor": "#000",
            "titleX": -84, "titleY": 277, "titleBaseline": "middle", "titleAlign": "center", "titleAngle": -90
          }
        }
      }
    },
    {
      "data": {"name": "notes"},
      "mark": {"type": "text", "font": "Open Sans", "fontSize": 46, "color": "#333399", "align": "center", "baseline": "alphabetic"},
      "encoding": {
        "x": {
          "field": "t", "type": "temporal",
          "axis": {
            "orient": "top", "title": null, "labels": false, "grid": false,
            "tickCount": {"interval": "day", "step": 1},
            "tickSize": {"condition": {"test": "day(datum.value) == 6", "value": -9}, "value": -4},
            "tickColor": "#000", "tickWidth": 1.2,
            "domainColor": "#000", "domainWidth": 1.6
          }
        },
        "y": {
          "field": "v", "type": "quantitative",
          "axis": {
            "orient": "right", "title": null, "labels": false, "grid": false,
            "values": [0, 0.2, 0.4, 0.6, 0.8, 1, 1.2, 1.4, 1.6],
            "tickSize": -9, "tickColor": "#000", "tickWidth": 1.4,
            "domainColor": "#000", "domainWidth": 1.6
          }
        },
        "text": {"field": "text"}
      }
    },
    {
      "data": {"name": "legend"},
      "mark": {"type": "text", "font": "DejaVu Sans", "fontSize": 17, "color": "#e8141c", "align": "left", "baseline": "alphabetic"},
      "encoding": {
        "x": {"field": "t", "type": "temporal", "axis": null},
        "y": {"field": "v", "type": "quantitative", "axis": null},
        "text": {"field": "label"}
      }
    },
    {
      "data": {"name": "legend"},
      "mark": {"type": "point", "shape": "M-1,0L1,0M0,-1L0,1", "size": 120, "filled": false, "stroke": "#ff0000", "strokeWidth": 1.4, "opacity": 1},
      "encoding": {
        "x": {"field": "tx", "type": "temporal", "axis": null},
        "y": {"field": "tv", "type": "quantitative", "axis": null}
      }
    }
  ]
}
